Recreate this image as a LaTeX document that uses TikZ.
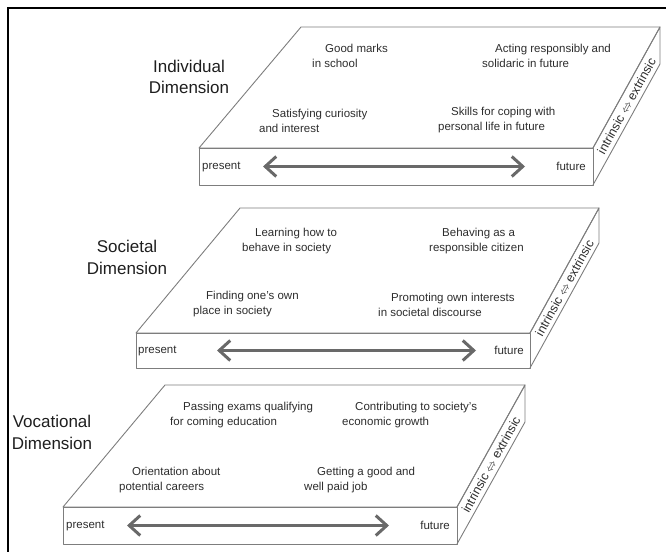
\documentclass[tikz,border=0pt]{standalone}
\usepackage{fontspec}
\setmainfont{Liberation Sans}
\usepackage{tikz}
\usetikzlibrary{arrows.meta}

\definecolor{slabgray}{RGB}{125,125,125}
\definecolor{arrowgray}{RGB}{105,105,105}
\definecolor{textgray}{RGB}{45,45,45}
\definecolor{titlegray}{RGB}{30,30,30}

% first line of a note sits a bit to the right (plane is slanted)
\newcommand{\firstind}{\hspace*{13pt}}

\begin{document}
\begin{tikzpicture}[x=1pt, y=-1pt,
  slab/.style={draw=slabgray, line width=0.9pt, line join=round},
  dimlabel/.style={align=center, inner sep=0pt, text=titlegray, font=\fontsize{17}{21.5}\selectfont},
  aim/.style={anchor=west, align=left, inner sep=0pt, text=textgray, font=\fontsize{11.5}{15}\selectfont},
  timelabel/.style={inner sep=0pt, text=textgray, font=\fontsize{11.5}{14}\selectfont},
  sidelabel/.style={inner sep=0pt, rotate=61, text=textgray, font=\fontsize{12.5}{14}\selectfont},
  timeline/.style={draw=arrowgray, line width=3pt, {Straight Barb[length=11pt,width=20pt]}-{Straight Barb[length=11pt,width=20pt]}}
]
  \useasboundingbox (0,0) rectangle (666,551);

  % frame
  \draw[line width=1.8pt] (8,553) -- (8,8) -- (668,8);

  % individual slab
  \coordinate (ibl) at (301,27);
  \coordinate (ibr) at (660,27);
  \coordinate (ifl) at (199,148);
  \coordinate (ifr) at (593,148);
  \draw[slab] (ibl) -- (ibr) -- (ifr) -- (ifl) -- cycle;
  \draw[slab] (ifl) rectangle ([yshift=-37pt]ifr);
  \draw[slab] (ifr) -- (ibr) -- ([yshift=-37pt]ibr) -- ([yshift=-37pt]ifr);

  \node[dimlabel] (idim) at (189,77) {Individual\\Dimension};
  \node[aim] (imarks) at (312,55.5) {\firstind Good marks\\in school};
  \node[aim] (iact) at (482,55.5) {\firstind Acting responsibly and\\solidaric in future};
  \node[aim] (icur) at (259,120.5) {\firstind Satisfying curiosity\\and interest};
  \node[aim] (iskill) at (438,120.5) {\firstind Skills for coping with\\personal life in future};

  \node[timelabel, anchor=west] (ipres) at (202,166.5) {present};
  \node[timelabel, anchor=east] (ifut) at (586,166.5) {future};
  \coordinate (ia) at (263,166.5);
  \coordinate (ib) at (525,166.5);
  \draw[timeline] (ia) -- (ib);
  \node[sidelabel] (iside) at (626.5,106) {intrinsic $\Leftrightarrow$ extrinsic};

  % societal slab
  \coordinate (sbl) at (240,208);
  \coordinate (sbr) at (599,208);
  \coordinate (sfl) at (136,333);
  \coordinate (sfr) at (530,333);
  \draw[slab] (sbl) -- (sbr) -- (sfr) -- (sfl) -- cycle;
  \draw[slab] (sfl) rectangle ([yshift=-35pt]sfr);
  \draw[slab] (sfr) -- (sbr) -- ([yshift=-35pt]sbr) -- ([yshift=-35pt]sfr);

  \node[dimlabel] (sdim) at (127,257.5) {Societal\\Dimension};
  \node[aim] (slearn) at (242,241.5) {\firstind Learning how to\\behave in society};
  \node[aim] (sbehave) at (429,241.5) {\firstind Behaving as a\\responsible citizen};
  \node[aim] (sfind) at (193,304.5) {\firstind Finding one's own\\place in society};
  \node[aim] (sprom) at (378,304.5) {\firstind Promoting own interests\\in societal discourse};

  \node[timelabel, anchor=west] (spres) at (138,350.5) {present};
  \node[timelabel, anchor=east] (sfut) at (524,350.5) {future};
  \coordinate (sa) at (217,350.5);
  \coordinate (sb) at (476,350.5);
  \draw[timeline] (sa) -- (sb);
  \node[sidelabel] (sside) at (564.5,288) {intrinsic $\Leftrightarrow$ extrinsic};

  % vocational slab
  \coordinate (vbl) at (165,385);
  \coordinate (vbr) at (525,385);
  \coordinate (vfl) at (63,507);
  \coordinate (vfr) at (457,507);
  \draw[slab] (vbl) -- (vbr) -- (vfr) -- (vfl) -- cycle;
  \draw[slab] (vfl) rectangle ([yshift=-37pt]vfr);
  \draw[slab] (vfr) -- (vbr) -- ([yshift=-37pt]vbr) -- ([yshift=-37pt]vfr);

  \node[dimlabel] (vdim) at (52,432.5) {Vocational\\Dimension};
  \node[aim] (vpass) at (170,415.5) {\firstind Passing exams qualifying\\for coming education};
  \node[aim] (vcont) at (342,415.5) {\firstind Contributing to society's\\economic growth};
  \node[aim] (vorient) at (119,480.5) {\firstind Orientation about\\potential careers};
  \node[aim] (vjob) at (304,480.5) {\firstind Getting a good and\\well paid job};

  \node[timelabel, anchor=west] (vpres) at (66,525.5) {present};
  \node[timelabel, anchor=east] (vfut) at (450,525.5) {future};
  \coordinate (va) at (127,525.5);
  \coordinate (vb) at (389,525.5);
  \draw[timeline] (va) -- (vb);
  \node[sidelabel] (vside) at (491,464.5) {intrinsic $\Leftrightarrow$ extrinsic};

\end{tikzpicture}
\end{document}
